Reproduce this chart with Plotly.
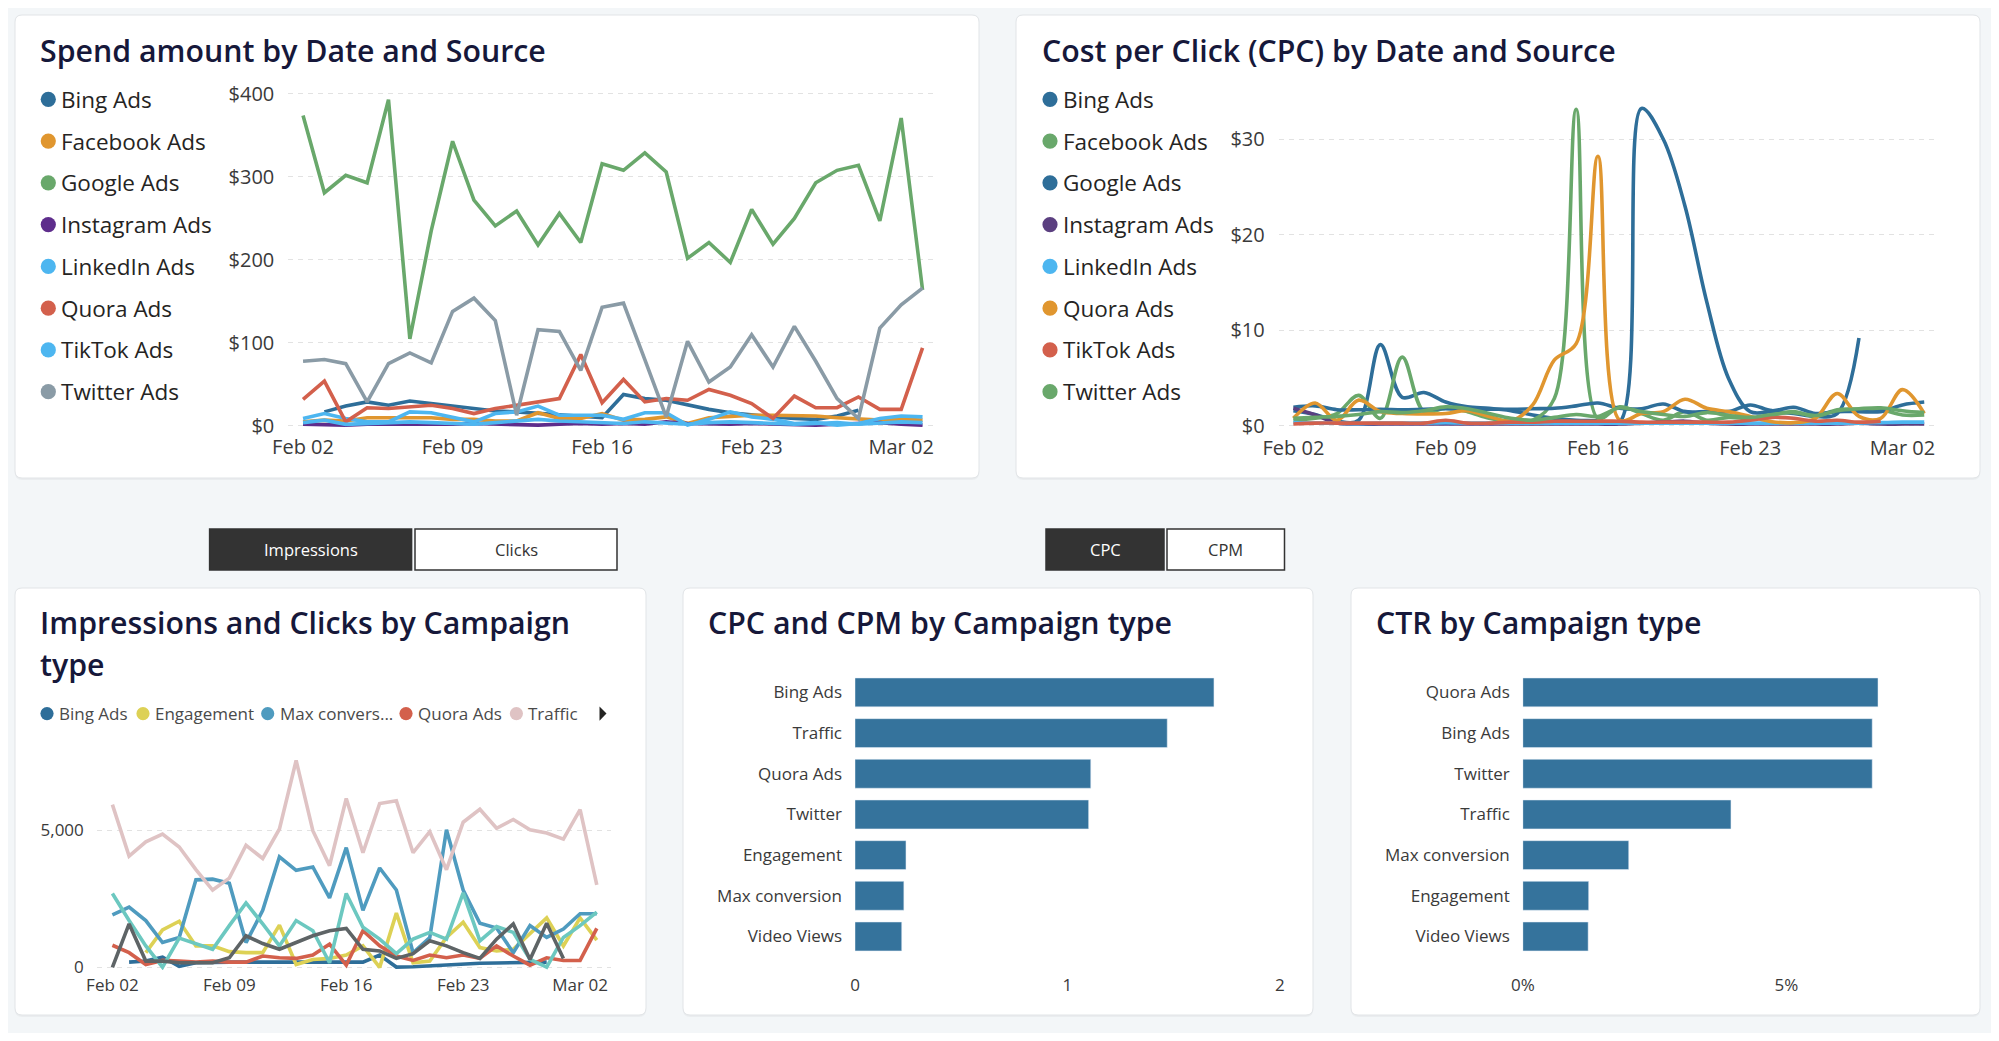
import pandas as pd
import plotly.graph_objects as go

# ---------------- data ----------------
dates = pd.date_range("2023-02-02", periods=30, freq="D")
sources = ["Bing Ads", "Facebook Ads", "Google Ads", "Instagram Ads",
           "LinkedIn Ads", "Quora Ads", "TikTok Ads", "Twitter Ads"]

# spend per day ($)
bing_spend = [None, 17, 24, 29, 25, 30, 27, 25, 21, 18, 17, 15, 13, 11, 10,
              38, 33, 31, 25, 20, 16, 13, 11, 9, 8, 12, 19, None, None, None]
facebook_spend = [5, 7, 6, 10, 10, 10, 10, 8, 8, 6, 6, 16, 9, 9, 15,
                  7, 8, 11, 3, 10, 12, 13, 13, 13, 12, 10, 8, 7, 8, 7]
google_spend = [374, 281, 302, 293, 393, 105, 235, 343, 272, 241, 259, 218, 256, 221, 316,
                308, 329, 306, 202, 221, 197, 261, 219, 250, 293, 308, 314, 247, 371, 164]
instagram_spend = [2, 1, 1, 2, 2, 1, 1, 2, 3, 2, 1, 1, 2, 3, 2,
                   3, 2, 5, 3, 2, 2, 3, 2, 2, 1, 2, 3, 4, 2, 1]
linkedin_spend = [9, 15, 9, 5, 5, 17, 16, 11, 5, 15, 17, 24, 13, 13, 13,
                  8, 16, 16, 1, 8, 17, 11, 8, 3, 4, 1, 3, 9, 12, 11]
quora_spend = [32, 54, 5, 22, 21, 23, 25, 21, 15, 21, 25, 29, 33, 86, 28,
               56, 29, 33, 31, 44, 37, 27, 9, 36, 22, 22, 35, 20, 20, 94]
tiktok_spend = [4, 7, 2, 3, 4, 5, 4, 3, 2, 4, 6, 8, 6, 5, 4,
                3, 5, 4, 2, 4, 5, 4, 3, 2, 3, 4, 2, 3, 5, 4]
twitter_spend = [78, 80, 75, 29, 75, 88, 76, 138, 154, 127, 13, 116, 114, 67, 143,
                 148, 80, 11, 102, 53, 71, 110, 71, 120, 78, 33, 9, 118, 146, 166]

# cost per click ($)
bing_cpc = [1.6, 1.2, 0.5, 0.6, 8.5, 3.0, 3.5, 2.5, 2.0, 1.85, 1.6, 1.15, 0.8, 0.6, 0.55,
            0.4, 33.2, 30.0, 23.0, 13.0, 5.0, 1.5, 1.5, 1.3, 1.0, 1.3, 9.2, None, None, None]
facebook_cpc = [0.6, 0.8, 1.3, 3.2, 0.8, 7.2, 1.5, 1.85, 1.5, 0.8, 0.45, 0.6, 2.9, 33.1, 0.8,
                2.0, 1.3, 0.6, 1.5, 0.6, 0.9, 0.8, 1.15, 1.5, 1.0, 1.7, 1.75, 1.7, 1.15, 1.15]
google_cpc = [1.95, 2.1, 1.7, 1.7, 1.75, 1.7, 1.75, 1.8, 1.75, 1.75, 1.75, 1.8, 1.85, 2.1, 2.4,
              1.85, 1.8, 2.3, 1.5, 1.5, 1.5, 2.2, 1.6, 1.95, 1.3, 1.5, 1.5, 1.5, 2.2, 2.5]
instagram_cpc = [1.85, 1.15, 0.3, 0.2, 0.2, 0.2, 0.2, 0.2, 0.2, 0.2, 0.2, 0.2, 0.2, 0.2, 0.2,
                 0.2, 0.3, 0.4, 0.5, 0.3, 0.2, 0.2, 0.2, 0.2, 0.2, 0.2, 0.3, 0.2, 0.2, 0.2]
linkedin_cpc = [0.35, 0.3, 0.3, 0.25, 0.3, 0.3, 0.3, 0.35, 0.3, 0.3, 0.3, 0.3, 0.3, 0.3, 0.3,
                0.3, 0.3, 0.3, 0.3, 0.3, 0.3, 0.3, 0.3, 0.3, 0.3, 0.3, 0.3, 0.35, 0.4, 0.4]
quora_cpc = [0.8, 2.4, 0.6, 2.7, 1.5, 1.3, 1.25, 1.3, 1.6, 1.0, 0.55, 2.2, 6.9, 8.6, 28.2,
             0.6, 1.3, 1.5, 2.8, 1.85, 1.5, 1.0, 0.45, 0.35, 0.8, 3.4, 1.0, 0.8, 3.8, 1.3]
tiktok_cpc = [0.2, 0.3, 0.3, 0.3, 0.3, 0.3, 0.3, 0.6, 0.3, 0.3, 0.4, 0.4, 0.5, 0.5, 0.5,
              0.5, 0.4, 0.4, 0.4, 0.4, 0.4, 0.6, 0.9, 0.8, 0.5, 0.6, 0.4, 0.5, None, None]
twitter_cpc = [0.8, 0.9, 1.0, 1.2, 1.5, 1.4, 1.6, 2.0, 1.8, 1.3, 0.8, 0.6, 0.9, 1.2, 1.0,
               1.9, 1.5, 1.2, 1.0, 1.4, 1.1, 0.9, 1.2, 1.4, 1.1, 1.6, 1.8, 1.9, 1.6, 1.4]

# impressions by campaign type
campaigns = ["Bing Ads", "Engagement", "Max conversion", "Quora Ads",
             "Traffic", "Twitter", "Video Views"]
bing_imp = [None, 190, 230, 375, 40, 170, 190, 190, 190, 190, 190, 190, 190, 190, 190,
            190, 450, 10, 20, 60, 100, 130, 150, 160, 170, 180, 190, None, None, None]
engagement_imp = [None, None, 535, 1359, 1679, 781, 781, 572, 535, 535, 1537, 105, 289, 326, 450,
                  781, 0, 1974, 166, 228, 1089, 1642, 720, 596, 658, 1211, 1802, 781, 1802, 990]
maxconv_imp = [1913, 2196, 1703, 904, 1089, 3185, 3210, 3062, 901, 2074, 4025, 3531, 3654, 2531, 4358,
               2074, 3617, 2815, 531, 1086, 5012, 2815, 1605, 1432, 535, 1519, 1089, 1396, 1950, 1950]
quora_imp = [805, 535, 105, 252, 228, 190, 228, 190, 190, 412, 350, 326, 449, 842, 80,
             1334, 781, 412, 252, 449, 350, 449, 326, 781, 412, 80, 350, 252, 252, 1420]
traffic_imp = [5926, 4049, 4568, 4852, 4383, 3556, 2815, 3247, 4444, 3963, 5037, 7531, 4975, 3704, 6148,
               4173, 5963, 6062, 4173, 4938, 3556, 5284, 5753, 5062, 5383, 5012, 4889, 4667, 5741, 3000]
twitter_imp = [2688, 1703, 781, 6, 1064, 867, 658, 1519, 2343, 1580, 781, 1703, 1334, 166, 2688,
               1457, 1027, 498, 1027, 1273, 1027, 2712, 966, 1482, 1273, 289, 6, 1089, 1519, 2011]
video_imp = [0, 1580, 228, 228, 166, 166, 166, 350, 1150, 867, 658, 904, 1150, 1334, 1420,
             658, 596, 326, 498, 966, 781, 535, 326, 1027, 1580, 289, 1605, 326, None, None]

# bar charts
cpc_cats = ["Bing Ads", "Traffic", "Quora Ads", "Twitter", "Engagement", "Max conversion", "Video Views"]
cpc_vals = [1.69, 1.47, 1.11, 1.10, 0.24, 0.23, 0.22]
ctr_cats = ["Quora Ads", "Bing Ads", "Twitter", "Traffic", "Max conversion", "Engagement", "Video Views"]
ctr_vals = [0.0674, 0.0663, 0.0663, 0.0395, 0.0201, 0.0125, 0.0124]

# axis tick labels
spend_ticks = [0, 100, 200, 300, 400]
spend_labels = ["$0", "$100", "$200", "$300", "$400"]
cpc_ticks = [0, 10, 20, 30]
cpc_labels = ["$0", "$10", "$20", "$30"]

# ---------------- styling ----------------
FONT = "Open Sans"
BG = "#F3F6F8"
TITLE_C = "#16183A"
TICK_C = "#3A3A3A"
LEG_C = "#252423"
GRID_C = "#E2E2E2"
BAR_C = "#35739C"

spend_colors = ["#2E6E99", "#E0962F", "#69A86B", "#5E2D8C",
                "#4DB6F0", "#D3604C", "#4DB6F0", "#8A9BA6"]
cpc_colors = ["#2E6E99", "#69A86B", "#2E6E99", "#5B3F80",
              "#4DB6F0", "#E0962F", "#D3604C", "#69A86B"]
camp_colors = ["#2E6E99", "#DDD155", "#4F9BBF", "#D3604C",
               "#DFC3C4", "#6CC8C0", "#5E6466"]

# page geometry (browser body keeps an 8px margin)
OFF = 8
FW, FH = 1983, 1025


def X(px):
    return (px - OFF) / FW


def Y(py):
    return 1 - (py - OFF) / FH


def day(d):
    return dates[0] + pd.Timedelta(days=d)


def rounded(x0, y0, x1, y1, r=7):
    pts = [
        f"M {X(x0 + r)},{Y(y0)}", f"L {X(x1 - r)},{Y(y0)}",
        f"Q {X(x1)},{Y(y0)} {X(x1)},{Y(y0 + r)}", f"L {X(x1)},{Y(y1 - r)}",
        f"Q {X(x1)},{Y(y1)} {X(x1 - r)},{Y(y1)}", f"L {X(x0 + r)},{Y(y1)}",
        f"Q {X(x0)},{Y(y1)} {X(x0)},{Y(y1 - r)}", f"L {X(x0)},{Y(y0 + r)}",
        f"Q {X(x0)},{Y(y0)} {X(x0 + r)},{Y(y0)}", "Z",
    ]
    return " ".join(pts)


fig = go.Figure()

# ---- spend lines
spend = [bing_spend, facebook_spend, google_spend, instagram_spend,
         linkedin_spend, quora_spend, tiktok_spend, twitter_spend]
for name, vals, col in zip(sources, spend, spend_colors):
    fig.add_trace(go.Scatter(x=dates, y=vals, name=name, mode="lines",
                             line=dict(color=col, width=3.6),
                             xaxis="x", yaxis="y", showlegend=False))

# ---- CPC lines (smoothed)
cpc = [bing_cpc, facebook_cpc, google_cpc, instagram_cpc,
       linkedin_cpc, quora_cpc, tiktok_cpc, twitter_cpc]
for name, vals, col in zip(sources, cpc, cpc_colors):
    fig.add_trace(go.Scatter(x=dates, y=vals, name=name, mode="lines",
                             line=dict(color=col, width=3.6, shape="spline", smoothing=1.0),
                             xaxis="x2", yaxis="y2", showlegend=False))

# ---- impressions lines
imp = [bing_imp, engagement_imp, maxconv_imp, quora_imp, traffic_imp, twitter_imp, video_imp]
for name, vals, col in zip(campaigns, imp, camp_colors):
    fig.add_trace(go.Scatter(x=dates, y=vals, name=name, mode="lines",
                             line=dict(color=col, width=3.6),
                             xaxis="x3", yaxis="y3", showlegend=False))

# ---- bars
fig.add_trace(go.Bar(x=cpc_vals, y=cpc_cats, orientation="h", marker_color=BAR_C,
                     xaxis="x4", yaxis="y4", showlegend=False))
fig.add_trace(go.Bar(x=ctr_vals, y=ctr_cats, orientation="h", marker_color=BAR_C,
                     xaxis="x5", yaxis="y5", showlegend=False))

# ---------------- axes ----------------
tick_font_big = dict(family=FONT, size=20, color=TICK_C)
tick_font = dict(family=FONT, size=17, color=TICK_C)
date_ticks = [day(d) for d in (0, 7, 14, 21, 28)]

date_axis = dict(type="date", tickvals=date_ticks, tickformat="%b %d", showgrid=False,
                 zeroline=False, showline=False, ticks="", fixedrange=True, automargin=False)
grid = dict(showgrid=True, gridcolor=GRID_C, griddash="5px,5px", zeroline=False, automargin=False)

fig.update_layout(
    xaxis=dict(date_axis, domain=[X(288.3), X(934.3)], range=[day(-0.69), day(29.55)],
               anchor="y", tickfont=tick_font_big, ticklabelstandoff=4),
    yaxis=dict(grid, domain=[Y(429.3), Y(84.0)], range=[-4, 412], anchor="x",
               tickvals=spend_ticks, ticktext=spend_labels, tickfont=tick_font_big,
               ticklabelstandoff=13),
    xaxis2=dict(date_axis, domain=[X(1278.7), X(1938.8)], range=[day(-0.676), day(29.67)],
                anchor="y2", tickfont=tick_font_big, ticklabelstandoff=4),
    yaxis2=dict(grid, domain=[Y(429.8), Y(86.4)], range=[-0.4, 35.5], anchor="x2",
                tickvals=cpc_ticks, ticktext=cpc_labels, tickfont=tick_font_big,
                ticklabelstandoff=13),
    xaxis3=dict(date_axis, domain=[X(96.8), X(611)], range=[day(-0.934), day(29.85)],
                anchor="y3", tickfont=tick_font, ticklabelstandoff=3),
    yaxis3=dict(grid, domain=[Y(970.1), Y(753.1)], range=[-100, 7800], anchor="x3",
                tickvals=[0, 5000], tickformat=",", tickfont=tick_font,
                ticklabelstandoff=12),
    xaxis4=dict(domain=[X(855), X(1279.8)], range=[0, 2], anchor="y4",
                tickvals=[0, 1, 2], tickfont=tick_font, showgrid=False, zeroline=False,
                ticklabelstandoff=16, automargin=False),
    yaxis4=dict(domain=[Y(956.8), Y(672.1)], range=[6.5, -0.5], anchor="x4",
                type="category", tickfont=tick_font, showgrid=False, ticklabelstandoff=12,
                automargin=False),
    xaxis5=dict(domain=[X(1522.8), X(1944.4)], range=[0, 0.08], anchor="y5",
                tickvals=[0, 0.05], tickformat=".0%", tickfont=tick_font, showgrid=False,
                zeroline=False, ticklabelstandoff=16, automargin=False),
    yaxis5=dict(domain=[Y(956.8), Y(672.1)], range=[6.5, -0.5], anchor="x5",
                type="category", tickfont=tick_font, showgrid=False, ticklabelstandoff=12,
                automargin=False),
)

# ---------------- cards, buttons, legends ----------------
shapes = []
annos = []

cards = [(15, 15, 979, 478), (1016, 15, 1980, 478),
         (15, 588, 646, 1015), (683, 588, 1313, 1015), (1351, 588, 1980, 1015)]
for (x0, y0, x1, y1) in cards:
    shapes.append(dict(type="path", path=rounded(x0, y0 + 2, x1, y1 + 2), xref="paper", yref="paper",
                       fillcolor="rgba(0,0,0,0.035)", line=dict(width=0), layer="below"))
    shapes.append(dict(type="path", path=rounded(x0, y0, x1, y1), xref="paper", yref="paper",
                       fillcolor="white", line=dict(color="#E1E4E7", width=1), layer="below"))


def title(text, x, y):
    annos.append(dict(text=text, x=X(x), y=Y(y), xref="paper", yref="paper",
                      xanchor="left", yanchor="middle", showarrow=False,
                      font=dict(family=FONT, size=30.3, color=TITLE_C, weight=600)))


title("Spend amount by Date and Source", 38, 50)
title("Cost per Click (CPC) by Date and Source", 1040, 50)
title("Impressions and Clicks by Campaign", 38, 622.5)
title("type", 38, 664.3)
title("CPC and CPM by Campaign type", 706, 622.5)
title("CTR by Campaign type", 1374, 622.5)


def dot(cx, cy, r, color):
    shapes.append(dict(type="circle", xref="paper", yref="paper",
                       x0=X(cx - r), x1=X(cx + r), y0=Y(cy + r), y1=Y(cy - r),
                       fillcolor=color, line=dict(width=0)))


def label(text, x, y, size, color):
    annos.append(dict(text=text, x=X(x), y=Y(y), xref="paper", yref="paper",
                      xanchor="left", yanchor="middle", showarrow=False,
                      font=dict(family=FONT, size=size, color=color)))


# vertical legends of the two top charts
for i, name in enumerate(sources):
    cy = 99.3 + i * 41.77
    dot(48.3, cy, 7.6, spend_colors[i])
    label(name, 59, cy, 22.5, LEG_C)
    dot(1050, cy, 7.6, cpc_colors[i])
    label(name, 1061, cy, 22.5, LEG_C)

# horizontal legend (truncated like the original)
h_items = [("Bing Ads", 47, 58), ("Engagement", 143, 153.6), ("Max convers...", 267.7, 279),
           ("Quora Ads", 406, 416.7), ("Traffic", 516.4, 527.4)]
for i, (name, mx, tx) in enumerate(h_items):
    dot(mx, 713.6, 6.6, camp_colors[i])
    label(name, tx - 1, 713.6, 17, "#4A4A4A")
shapes.append(dict(type="path", xref="paper", yref="paper",
                   path=f"M {X(599.5)},{Y(706.5)} L {X(606.5)},{Y(713.6)} L {X(599.5)},{Y(720.7)} Z",
                   fillcolor="#252423", line=dict(width=0)))

# toggle buttons
buttons = [("Impressions", 209.6, 411.6, True), ("Clicks", 415, 617, False),
           ("CPC", 1046, 1164, True), ("CPM", 1167, 1284.5, False)]
for text, x0, x1, active in buttons:
    shapes.append(dict(type="rect", xref="paper", yref="paper",
                       x0=X(x0), x1=X(x1), y0=Y(570), y1=Y(529),
                       fillcolor="#333333" if active else "white",
                       line=dict(color="#333333", width=1.5)))
    annos.append(dict(text=text, x=X((x0 + x1) / 2), y=Y(549.5), xref="paper", yref="paper",
                      xanchor="center", yanchor="middle", showarrow=False,
                      font=dict(family=FONT, size=16.5, color="white" if active else "#333333")))

fig.update_layout(
    width=FW, height=FH, autosize=False,
    margin=dict(l=0, r=0, t=0, b=0, pad=0, autoexpand=False),
    paper_bgcolor=BG, plot_bgcolor="rgba(0,0,0,0)",
    font=dict(family=FONT),
    bargap=0.29,
    showlegend=False,
    shapes=shapes, annotations=annos,
)

fig.write_html("out.html")
